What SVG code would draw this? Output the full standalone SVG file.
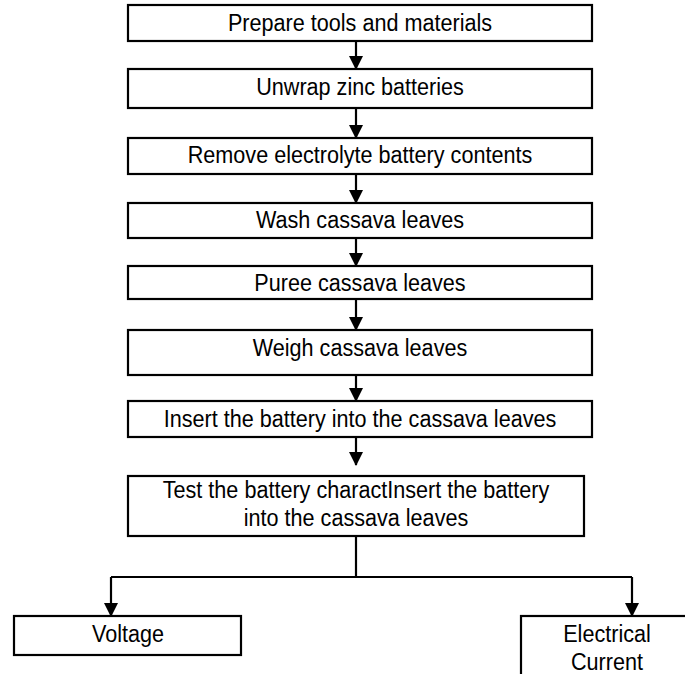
<svg xmlns="http://www.w3.org/2000/svg" width="685" height="674" viewBox="0 0 685 674">
  <style>
    .box { fill: #ffffff; stroke: #000000; stroke-width: 2.2; }
    .lbl { font-family: "Liberation Sans", Arial, sans-serif; font-size: 21.6px; fill: #000000; text-anchor: middle; }
    .wire { fill: none; stroke: #000000; stroke-width: 2.2; }
  </style>
  <defs>
    <marker id="head" markerUnits="userSpaceOnUse" markerWidth="14" markerHeight="14" viewBox="0 0 14 14" refX="13" refY="7" orient="auto">
      <path d="M0,0 L14,7 L0,14 Z" fill="#000000"/>
    </marker>
  </defs>
  <rect width="685" height="674" fill="#ffffff"/>

  <g id="connectors">
    <path class="wire" d="M356,41 V69" marker-end="url(#head)"/>
    <path class="wire" d="M356,108 V138" marker-end="url(#head)"/>
    <path class="wire" d="M356,174 V203" marker-end="url(#head)"/>
    <path class="wire" d="M356,238 V266" marker-end="url(#head)"/>
    <path class="wire" d="M356,299 V330" marker-end="url(#head)"/>
    <path class="wire" d="M356,375 V401" marker-end="url(#head)"/>
    <path class="wire" d="M356,437 V465" marker-end="url(#head)"/>
    <path class="wire" d="M356,536 V577"/>
    <path class="wire" d="M111,577 H632"/>
    <path class="wire" d="M111,577 V616" marker-end="url(#head)"/>
    <path class="wire" d="M632,577 V616" marker-end="url(#head)"/>
  </g>

  <g id="prepare">
    <rect class="box" x="128" y="5" width="464" height="36"/>
    <text class="lbl" transform="translate(360,31) scale(1,1.14)">Prepare tools and materials</text>
  </g>
  <g id="unwrap">
    <rect class="box" x="128" y="69" width="464" height="39"/>
    <text class="lbl" transform="translate(360,95) scale(1,1.14)">Unwrap zinc batteries</text>
  </g>
  <g id="remove">
    <rect class="box" x="128" y="138" width="464" height="36"/>
    <text class="lbl" transform="translate(360,163) scale(1,1.14)">Remove electrolyte battery contents</text>
  </g>
  <g id="wash">
    <rect class="box" x="128" y="203" width="464" height="35"/>
    <text class="lbl" transform="translate(360,228) scale(1,1.14)">Wash cassava leaves</text>
  </g>
  <g id="puree">
    <rect class="box" x="128" y="266" width="464" height="33"/>
    <text class="lbl" transform="translate(360,291) scale(1,1.14)">Puree cassava leaves</text>
  </g>
  <g id="weigh">
    <rect class="box" x="128" y="330" width="464" height="45"/>
    <text class="lbl" transform="translate(360,356) scale(1,1.14)">Weigh cassava leaves</text>
  </g>
  <g id="insert">
    <rect class="box" x="128" y="401" width="464" height="36"/>
    <text class="lbl" transform="translate(360,427) scale(1,1.14)">Insert the battery into the cassava leaves</text>
  </g>
  <g id="test">
    <rect class="box" x="128" y="476" width="456" height="60"/>
    <text class="lbl" transform="translate(356,498) scale(1,1.14)">Test the battery charactInsert the battery</text>
    <text class="lbl" transform="translate(356,526) scale(1,1.14)">into the cassava leaves</text>
  </g>
  <g id="voltage">
    <rect class="box" x="14" y="616" width="227" height="39"/>
    <text class="lbl" transform="translate(128,642) scale(1,1.14)">Voltage</text>
  </g>
  <g id="current">
    <rect class="box" x="521" y="616" width="190" height="80"/>
    <text class="lbl" transform="translate(607,642) scale(1,1.14)">Electrical</text>
    <text class="lbl" transform="translate(607,670) scale(1,1.14)">Current</text>
  </g>
</svg>
